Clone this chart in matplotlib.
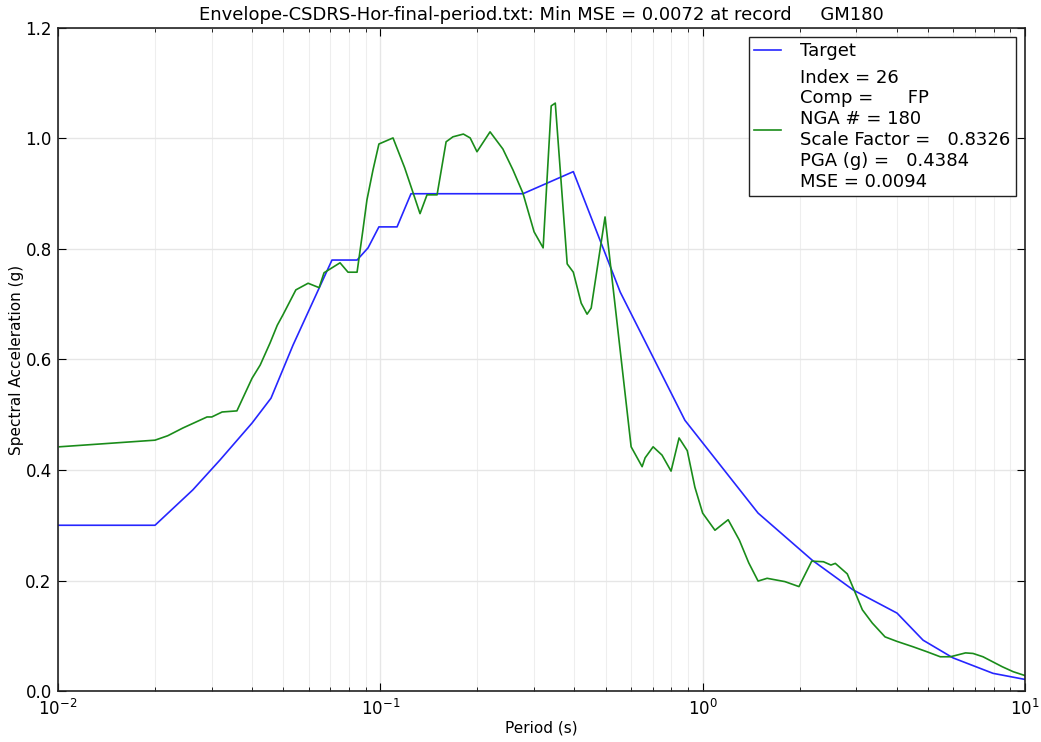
import matplotlib
matplotlib.use("Agg")
import matplotlib.pyplot as plt
from matplotlib.ticker import LogLocator, FixedLocator

# Target envelope spectrum
target_period = [0.01, 0.02, 0.0262, 0.0318, 0.040, 0.0458, 0.0536, 0.0708, 0.0847,
                 0.0916, 0.099, 0.1127, 0.1245, 0.277, 0.397, 0.555, 0.881,
                 1.486, 2.185, 2.93, 4.01, 4.83, 5.98, 7.96, 10.0]
target_sa = [0.300, 0.300, 0.364, 0.418, 0.485, 0.530, 0.626, 0.780, 0.780,
             0.802, 0.840, 0.840, 0.900, 0.900, 0.940, 0.722, 0.490,
             0.322, 0.237, 0.183, 0.141, 0.092, 0.060, 0.032, 0.021]

# Scaled record spectrum (NGA # 180)
record_period = [0.0101, 0.020, 0.0219, 0.0244, 0.029, 0.030, 0.0323, 0.0359, 0.040,
                 0.0424, 0.0455, 0.0479, 0.0499, 0.0547, 0.0597, 0.0646, 0.0669,
                 0.0750, 0.0794, 0.0847, 0.0883, 0.0909, 0.0949, 0.099, 0.1095,
                 0.119, 0.1265, 0.1328, 0.1396, 0.150, 0.160, 0.168, 0.181, 0.190,
                 0.1995, 0.219, 0.240, 0.258, 0.277, 0.300, 0.320, 0.339, 0.349,
                 0.380, 0.397, 0.420, 0.438, 0.451, 0.498, 0.600, 0.649, 0.663,
                 0.702, 0.748, 0.798, 0.845, 0.896, 0.946, 1.0, 1.092, 1.20, 1.30,
                 1.39, 1.486, 1.585, 1.80, 1.99, 2.18, 2.37, 2.50, 2.58, 2.81, 2.93,
                 3.13, 3.36, 3.68, 4.0, 4.50, 4.97, 5.46, 5.87, 6.54, 6.90, 7.41,
                 8.50, 9.19, 10.0]
record_sa = [0.442, 0.454, 0.462, 0.476, 0.496, 0.496, 0.505, 0.507, 0.566,
             0.590, 0.630, 0.662, 0.681, 0.726, 0.738, 0.730, 0.757,
             0.775, 0.758, 0.758, 0.834, 0.889, 0.943, 0.990, 1.001,
             0.947, 0.901, 0.864, 0.898, 0.898, 0.994, 1.003, 1.008, 1.001,
             0.976, 1.012, 0.981, 0.943, 0.901, 0.831, 0.802, 1.059, 1.064,
             0.773, 0.758, 0.702, 0.682, 0.693, 0.858, 0.442, 0.406, 0.422,
             0.442, 0.427, 0.398, 0.458, 0.435, 0.369, 0.322, 0.291, 0.310, 0.273,
             0.232, 0.199, 0.204, 0.198, 0.189, 0.235, 0.234, 0.228, 0.231, 0.212, 0.187,
             0.147, 0.123, 0.098, 0.090, 0.080, 0.071, 0.062, 0.062, 0.069, 0.068, 0.062,
             0.044, 0.035, 0.028]

title = "Envelope-CSDRS-Hor-final-period.txt: Min MSE = 0.0072 at record     GM180"
record_label = ("Index = 26\nComp =      FP\nNGA # = 180\n"
                "Scale Factor =   0.8326\nPGA (g) =   0.4384\nMSE = 0.0094")
y_ticks = [0.0, 0.2, 0.4, 0.6, 0.8, 1.0, 1.2]

fig = plt.figure(figsize=(10.41, 7.42), dpi=100)
ax = fig.add_axes([0.0557, 0.0687, 0.9289, 0.8936])

ax.plot(target_period, target_sa, color=(0.15, 0.15, 1.0), lw=1.2, label="Target")
ax.plot(record_period, record_sa, color=(0.1, 0.55, 0.1), lw=1.2, label=record_label)

ax.set_xscale("log")
ax.set_xlim(0.01, 10)
ax.set_ylim(0, 1.2)
ax.yaxis.set_major_locator(FixedLocator(y_ticks))
ax.set_yticklabels([f"{v:.1f}" for v in y_ticks])
ax.xaxis.set_minor_locator(LogLocator(base=10, subs=range(2, 10)))

ax.grid(True, which="major", color="#e6e6e6", lw=1)
ax.grid(True, which="minor", axis="x", color="#eeeeee", lw=0.8)
ax.set_axisbelow(True)

ax.tick_params(which="both", direction="in", top=True, right=True, labelsize=12)
ax.tick_params(which="major", length=6)
ax.tick_params(which="minor", length=3)
ax.tick_params(axis="x", which="major", pad=6)
ax.tick_params(axis="y", which="major", pad=4.5)
for s in ax.spines.values():
    s.set_linewidth(1.2)
    s.set_color("#222222")

ax.set_xlabel("Period (s)", fontsize=11, labelpad=1)
ax.set_ylabel("Spectral Acceleration (g)", fontsize=11, labelpad=1)
ax.set_title(title, fontsize=13, pad=6)

leg = ax.legend(loc="upper right", fontsize=13, fancybox=False, framealpha=1,
                edgecolor="#222222", borderaxespad=0.5, handlelength=1.5,
                handletextpad=1.05, borderpad=0.3, labelspacing=0.45)
leg.get_frame().set_linewidth(1.0)

fig.savefig("out.png", dpi=100)
